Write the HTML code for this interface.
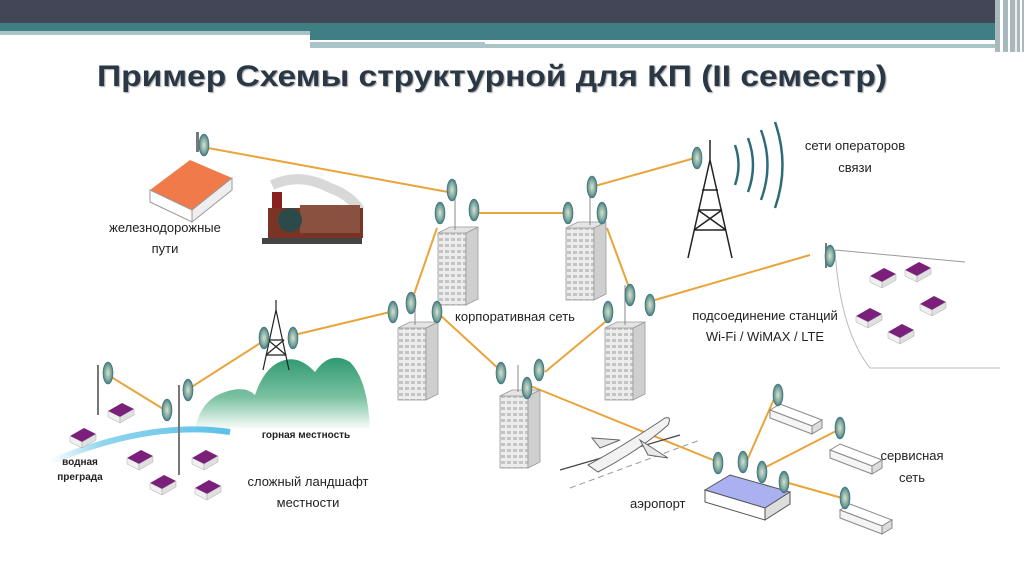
<!DOCTYPE html>
<html><head><meta charset="utf-8"><style>
html,body{margin:0;padding:0;background:#fff;width:1024px;height:574px;overflow:hidden}
svg{display:block}
text{font-family:"Liberation Sans",sans-serif}
</style></head><body>
<svg width="1024" height="574" viewBox="0 0 1024 574" xmlns="http://www.w3.org/2000/svg">
<defs>
<radialGradient id="ant" cx="50%" cy="50%" r="55%"><stop offset="0" stop-color="#d8e2c8"/><stop offset="0.6" stop-color="#7fa8a0"/><stop offset="1" stop-color="#2e6b78"/></radialGradient>
<linearGradient id="mt" x1="0" y1="0" x2="0" y2="1"><stop offset="0" stop-color="#2e9a70"/><stop offset="0.55" stop-color="#7cc2a2"/><stop offset="1" stop-color="#ffffff"/></linearGradient>
<linearGradient id="river" x1="0" y1="0" x2="1" y2="0"><stop offset="0" stop-color="#ffffff"/><stop offset="0.3" stop-color="#8fd4ee"/><stop offset="1" stop-color="#5cc0e8"/></linearGradient>
<pattern id="win" width="6" height="6" patternUnits="userSpaceOnUse"><rect width="6" height="6" fill="#ececec"/><rect x="1" y="1" width="4" height="3" fill="#c4c4c4"/></pattern>
<g id="bld"><rect x="0" y="8" width="28" height="72" fill="url(#win)" stroke="#999" stroke-width="0.8"/><polygon points="28,8 40,2 40,74 28,80" fill="#cfcfcf" stroke="#999" stroke-width="0.8"/><polygon points="0,8 12,2 40,2 28,8" fill="#e4e4e4" stroke="#999" stroke-width="0.8"/></g>
<g id="a"><ellipse cx="0" cy="0" rx="5" ry="11" fill="url(#ant)" stroke="#3d6f7a" stroke-width="0.6"/></g>
<g id="hs"><polygon points="0,8 14,0 26,6 12,14" fill="#7a1f7a"/><polygon points="0,8 12,14 12,20 0,14" fill="#f0f0f0" stroke="#aaa" stroke-width="0.5"/><polygon points="12,14 26,6 26,12 12,20" fill="#e0e0e0" stroke="#aaa" stroke-width="0.5"/></g>
<g id="term"><polygon points="0,0 10,-6 52,10 42,16" fill="#fff" stroke="#888"/><polygon points="0,0 42,16 42,24 0,8" fill="#f4f4f4" stroke="#888"/><polygon points="42,16 52,10 52,18 42,24" fill="#ddd" stroke="#888"/></g>
</defs>
<!-- header -->
<rect x="0" y="0" width="1024" height="23" fill="#434656"/>
<rect x="0" y="23" width="1024" height="8" fill="#3f7f84"/>
<rect x="0" y="31" width="310" height="4" fill="#a8c4c6"/>
<rect x="310" y="31" width="700" height="9" fill="#3f7f84"/>
<rect x="310" y="40" width="700" height="4" fill="#fff"/>
<rect x="310" y="42" width="175" height="6" fill="#a8c4c6"/>
<rect x="422" y="44" width="590" height="4" fill="#a8c4c6"/>
<rect x="995" y="0" width="29" height="52" fill="#a8b8bc"/>
<rect x="1000" y="0" width="3" height="52" fill="#fff"/><rect x="1008" y="0" width="2" height="52" fill="#fff"/><rect x="1015" y="0" width="2" height="52" fill="#eee"/><rect x="1020" y="0" width="2" height="52" fill="#fff"/>
<text x="97" y="86" font-family="Liberation Sans Narrow, Liberation Sans, sans-serif" font-weight="bold" font-size="30" fill="#2a3846" textLength="790" lengthAdjust="spacingAndGlyphs" style="text-shadow:1px 1px 1px #aaa">Пример Схемы структурной для КП (II семестр)</text>

<!-- mountains & river -->
<path d="M195,430 Q200,400 225,392 Q245,385 255,395 Q265,365 285,360 Q300,356 315,372 Q330,350 350,362 Q368,380 370,430 Z" fill="url(#mt)"/>
<path d="M50,462 Q150,420 230,432" stroke="url(#river)" stroke-width="6" fill="none"/>
<!-- orange links -->
<g stroke="#e9a43a" stroke-width="2" fill="none">
<line x1="208" y1="148" x2="448" y2="192"/>
<line x1="475" y1="213" x2="565" y2="213"/>
<line x1="595" y1="186" x2="695" y2="158"/>
<line x1="437" y1="228" x2="412" y2="300"/>
<line x1="607" y1="228" x2="630" y2="290"/>
<line x1="440" y1="315" x2="500" y2="370"/>
<line x1="610" y1="318" x2="545" y2="372"/>
<line x1="390" y1="312" x2="290" y2="336"/>
<line x1="265" y1="340" x2="190" y2="388"/>
<line x1="108" y1="375" x2="165" y2="410"/>
<line x1="655" y1="300" x2="810" y2="255"/>
<line x1="528" y1="385" x2="718" y2="462"/>
<line x1="745" y1="465" x2="778" y2="390"/>
<line x1="760" y1="470" x2="838" y2="430"/>
<line x1="785" y1="482" x2="842" y2="498"/>
</g>
<!-- railway house -->
<polygon points="150,190 190,160 232,178 192,210" fill="#f07a4a"/>
<polygon points="150,190 192,210 192,222 150,202" fill="#fff" stroke="#999"/>
<polygon points="192,210 232,178 232,190 192,222" fill="#eee" stroke="#999"/>
<rect x="196" y="132" width="3" height="20" fill="#777"/><use href="#a" x="204" y="145"/>
<!-- train -->
<path d="M272,185 Q300,172 330,188 Q350,195 360,210" stroke="#d8d8d8" stroke-width="10" fill="none"/>
<rect x="268" y="208" width="95" height="30" fill="#7a3424"/>
<rect x="300" y="205" width="60" height="28" fill="#8a5040"/>
<circle cx="290" cy="220" r="12" fill="#2c4a4a"/><rect x="272" y="192" width="10" height="16" fill="#8a2020"/>
<rect x="262" y="238" width="100" height="6" fill="#444"/>
<!-- buildings -->
<use href="#bld" x="438" y="225"/>
<use href="#bld" x="566" y="220"/>
<use href="#bld" x="398" y="320"/>
<use href="#bld" x="605" y="320"/>
<use href="#bld" x="500" y="388"/>
<!-- antennas -->
<g stroke="#888" stroke-width="1">
<line x1="455" y1="180" x2="455" y2="230"/><line x1="590" y1="180" x2="590" y2="225"/>
<line x1="415" y1="295" x2="415" y2="325"/><line x1="625" y1="285" x2="625" y2="325"/><line x1="518" y1="365" x2="518" y2="392"/>
</g>
<use href="#a" x="452" y="190"/><use href="#a" x="440" y="213"/><use href="#a" x="474" y="210"/>
<use href="#a" x="592" y="187"/><use href="#a" x="568" y="213"/><use href="#a" x="602" y="213"/>
<use href="#a" x="411" y="303"/><use href="#a" x="393" y="312"/><use href="#a" x="437" y="312"/>
<use href="#a" x="630" y="295"/><use href="#a" x="608" y="312"/><use href="#a" x="650" y="305"/>
<use href="#a" x="501" y="373"/><use href="#a" x="539" y="370"/><use href="#a" x="527" y="388"/>
<!-- operator tower -->
<g stroke="#222" stroke-width="1.5" fill="none">
<polyline points="688,258 710,160 732,258"/><line x1="710" y1="160" x2="710" y2="140"/>
<path d="M698,210 L722,210 M694,230 L726,230 M702,190 L718,190 M698,210 L726,230 M722,210 L694,230"/>
</g>
<use href="#a" x="697" y="158"/>
<g stroke="#2e6b78" stroke-width="2.5" fill="none">
<path d="M735,145 Q742,165 735,185"/><path d="M748,138 Q758,165 748,192"/><path d="M761,130 Q774,165 761,200"/><path d="M775,122 Q790,165 775,208"/>
</g>
<!-- wifi area -->
<path d="M835,250 L965,262" stroke="#999" fill="none"/><path d="M835,250 Q840,330 870,368 L1000,368" stroke="#bbb" fill="none"/>
<rect x="825" y="243" width="2" height="25" fill="#777"/><use href="#a" x="830" y="256"/>
<use href="#hs" x="870" y="268"/><use href="#hs" x="905" y="262"/><use href="#hs" x="920" y="296"/><use href="#hs" x="856" y="308"/><use href="#hs" x="888" y="324"/>
<!-- mountain tower -->
<g stroke="#222" stroke-width="1.2" fill="none"><polyline points="263,370 276,310 289,370"/><line x1="276" y1="310" x2="276" y2="300"/><path d="M268,340 L284,340 M266,355 L286,355 M268,340 L286,355 M284,340 L266,355"/></g>
<use href="#a" x="264" y="338"/><use href="#a" x="293" y="338"/>
<!-- left antennas -->
<rect x="97" y="365" width="2" height="50" fill="#777"/><use href="#a" x="108" y="373"/>
<rect x="178" y="385" width="2" height="90" fill="#777"/><use href="#a" x="188" y="390"/><use href="#a" x="167" y="410"/>
<use href="#hs" x="108" y="403"/><use href="#hs" x="70" y="428"/><use href="#hs" x="127" y="450"/><use href="#hs" x="192" y="450"/><use href="#hs" x="150" y="475"/><use href="#hs" x="195" y="480"/>
<!-- airplane -->
<path d="M560,470 L680,435" stroke="#444" stroke-width="1.2"/><path d="M570,488 L700,440" stroke="#999" stroke-width="1" stroke-dasharray="6 4"/>
<path d="M588,465 Q620,448 665,418 Q672,416 668,425 Q640,450 598,472 Z" fill="#f2f2f2" stroke="#666"/>
<path d="M620,440 L592,438 L600,448 Z" fill="#e8e8e8" stroke="#666"/><path d="M640,440 L668,458 L648,455 Z" fill="#e8e8e8" stroke="#666"/>
<!-- airport -->
<polygon points="705,490 730,475 790,492 765,508" fill="#aab0f0" stroke="#555"/>
<polygon points="705,490 765,508 765,520 705,502" fill="#fff" stroke="#555"/>
<polygon points="765,508 790,492 790,504 765,520" fill="#ddd" stroke="#555"/>
<use href="#a" x="718" y="463"/><use href="#a" x="743" y="462"/><use href="#a" x="762" y="472"/><use href="#a" x="784" y="482"/>
<use href="#term" x="770" y="410"/><use href="#term" x="830" y="450"/><use href="#term" x="840" y="510"/>
<use href="#a" x="778" y="395"/><use href="#a" x="840" y="428"/><use href="#a" x="845" y="498"/>
<!-- labels -->
<g font-size="13" fill="#222">
<text x="165" y="232" text-anchor="middle">железнодорожные</text><text x="165" y="253" text-anchor="middle">пути</text>
<text x="855" y="150" text-anchor="middle">сети операторов</text><text x="855" y="172" text-anchor="middle">связи</text>
<text x="455" y="321">корпоративная сеть</text>
<text x="765" y="320" text-anchor="middle">подсоединение станций</text><text x="765" y="341" text-anchor="middle">Wi-Fi / WiMAX / LTE</text>
<text x="308" y="486" text-anchor="middle">сложный ландшафт</text><text x="308" y="507" text-anchor="middle">местности</text>
<text x="912" y="460" text-anchor="middle">сервисная</text><text x="912" y="482" text-anchor="middle">сеть</text>
<text x="630" y="508">аэропорт</text>
</g>
<text x="306" y="438" text-anchor="middle" font-size="10" font-weight="bold" fill="#222">горная местность</text>
<text x="80" y="465" text-anchor="middle" font-size="10" font-weight="bold" fill="#222">водная</text>
<text x="80" y="480" text-anchor="middle" font-size="10" font-weight="bold" fill="#222">преграда</text>
</svg>
</body></html>
